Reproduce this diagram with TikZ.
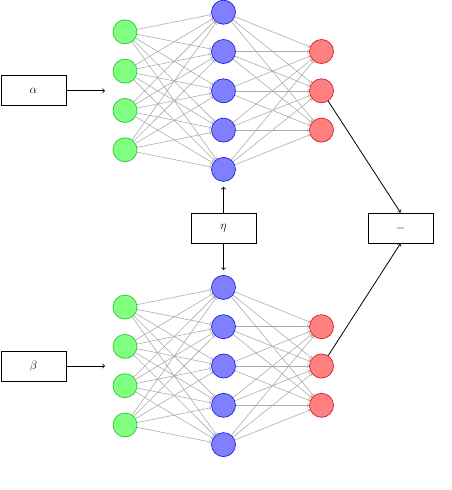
\documentclass[tikz,border=0pt]{standalone}
\definecolor{ingreen}{RGB}{128,255,128}
\definecolor{ingreenb}{RGB}{45,200,45}
\definecolor{hidblue}{RGB}{128,128,255}
\definecolor{hidblueb}{RGB}{30,30,225}
\definecolor{outred}{RGB}{255,128,128}
\definecolor{outredb}{RGB}{215,30,30}
\begin{document}
\begin{tikzpicture}[x=1pt,y=-1pt,
  neuron/.style={circle,minimum size=24pt,inner sep=0pt,line width=0.7pt},
  inneuron/.style={neuron,fill=ingreen,draw=ingreenb},
  hidneuron/.style={neuron,fill=hidblue,draw=hidblueb},
  outneuron/.style={neuron,fill=outred,draw=outredb},
  conn/.style={->,draw=gray!65,line width=0.6pt},
  blk/.style={->,draw=black,line width=0.8pt},
  valbox/.style={draw,line width=0.8pt,minimum width=65pt,minimum height=30pt,inner sep=0pt,font=\large}]
\useasboundingbox (0,0) rectangle (452,490);
% top network (t) and bottom network (b)
\foreach \net/\cy in {t/90.8,b/366} {
  \foreach \i in {1,...,4}
    \node[inneuron] (\net i\i) at (125,{\cy+(\i-2.5)*39.3}) {};
  \foreach \j in {1,...,5}
    \node[hidneuron] (\net h\j) at (223.5,{\cy+(\j-3)*39.3}) {};
  \foreach \k in {1,...,3}
    \node[outneuron] (\net o\k) at (321.5,{\cy+(\k-2)*39.3}) {};
  \foreach \i in {1,...,4}
    \foreach \j in {1,...,5}
      \draw[conn] (\net i\i) -- (\net h\j);
  \foreach \j in {1,...,5}
    \foreach \k in {1,...,3}
      \draw[conn] (\net h\j) -- (\net o\k);
}
\node[valbox] (alpha) at (33.5,90.8) {$\alpha$};
\node[valbox] (beta) at (33.5,366) {$\beta$};
\node[valbox] (eta) at (223.5,228) {$\eta$};
\node[valbox] (minus) at (400.5,228) {$-$};
\coordinate (ain) at (105,90.8);
\coordinate (bin) at (105,366);
\draw[blk] (alpha) -- (ain);
\draw[blk] (beta) -- (bin);
\draw[blk,shorten >=5pt] (eta) -- (th5);
\draw[blk,shorten >=5pt] (eta) -- (bh1);
\draw[blk] (to2) -- (minus.north);
\draw[blk] (bo2) -- (minus.south);
\end{tikzpicture}
\end{document}
